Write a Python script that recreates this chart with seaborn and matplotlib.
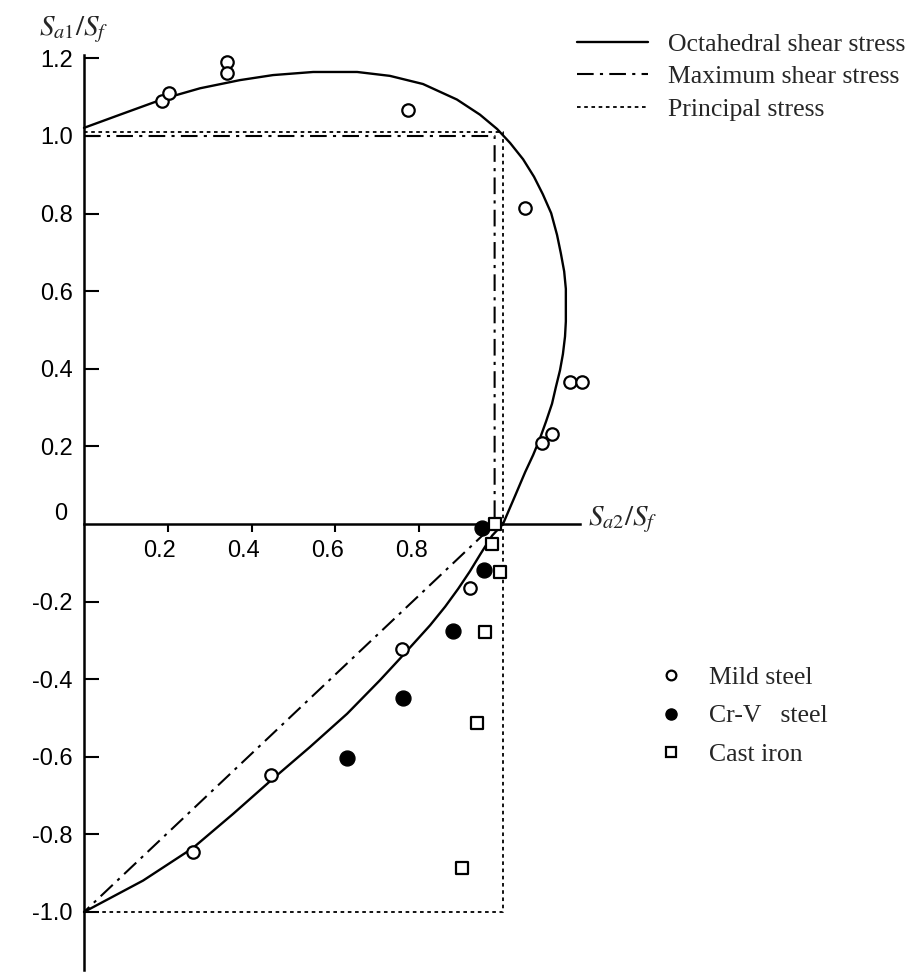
import matplotlib
matplotlib.use("Agg")
import matplotlib.pyplot as plt
import seaborn as sns
from matplotlib.lines import Line2D
from matplotlib.transforms import ScaledTranslation

# ---------------- data ----------------
# Octahedral shear stress curve (S_a2/S_f , S_a1/S_f)
octa_x = [0.000, 0.086, 0.193, 0.277, 0.372, 0.451, 0.547, 0.652, 0.730, 0.809,
          0.890, 0.945, 0.986, 1.017, 1.048, 1.074, 1.095, 1.115, 1.129, 1.138,
          1.146, 1.150, 1.150, 1.150, 1.148, 1.143, 1.136, 1.126, 1.117, 1.103,
          1.088, 1.072, 1.053, 1.029, 1.000, 0.974, 0.947, 0.921, 0.893, 0.862,
          0.826, 0.790, 0.754, 0.706, 0.628, 0.539, 0.444, 0.356, 0.260, 0.141,
          0.000]
octa_y = [1.021, 1.055, 1.097, 1.123, 1.144, 1.157, 1.165, 1.165, 1.155, 1.134,
          1.094, 1.055, 1.018, 0.982, 0.940, 0.895, 0.850, 0.801, 0.745, 0.698,
          0.651, 0.606, 0.562, 0.522, 0.483, 0.438, 0.396, 0.352, 0.310, 0.265,
          0.220, 0.178, 0.134, 0.073, 0.000, -0.030, -0.076, -0.122, -0.167, -0.213,
          -0.261, -0.304, -0.347, -0.403, -0.489, -0.575, -0.663, -0.747, -0.835, -0.919,
          -1.000]

# Maximum shear stress (Tresca) boundary
tresca_x = [0.0, 0.98, 0.98, 0.0]
tresca_y = [1.0, 1.0, 0.0, -1.0]

# Principal stress boundary
principal_x = [0.0, 1.0, 1.0, 0.0]
principal_y = [1.01, 1.01, -1.0, -1.0]

# Test data
mild_x = [0.187, 0.204, 0.341, 0.341, 0.774, 1.053, 1.160, 1.188, 1.094, 1.116,
          0.261, 0.446, 0.758, 0.922]
mild_y = [1.090, 1.112, 1.191, 1.162, 1.066, 0.814, 0.366, 0.366, 0.208, 0.232,
          -0.846, -0.646, -0.322, -0.166]
crv_x = [0.949, 0.955, 0.881, 0.761, 0.628]
crv_y = [-0.010, -0.119, -0.277, -0.448, -0.603]
cast_x = [0.981, 0.974, 0.993, 0.958, 0.937, 0.901]
cast_y = [0.000, -0.052, -0.123, -0.278, -0.514, -0.886]

xtick_vals = [0.2, 0.4, 0.6, 0.8]
xtick_labels = ["0.2", "0.4", "0.6", "0.8"]
ytick_vals = [1.2, 1.0, 0.8, 0.6, 0.4, 0.2, 0.0, -0.2, -0.4, -0.6, -0.8, -1.0]
ytick_labels = ["1.2", "1.0", "0.8", "0.6", "0.4", "0.2", "0",
                "-0.2", "-0.4", "-0.6", "-0.8", "-1.0"]

line_labels = ["Octahedral shear stress", "Maximum shear stress", "Principal stress"]
marker_labels = ["Mild steel", "Cr-V   steel", "Cast iron"]

# ---------------- style ----------------
sns.set_theme(style="white")
plt.rcParams.update({
    "font.family": ["Liberation Sans", "DejaVu Sans"],
    "mathtext.fontset": "stix",
    "axes.unicode_minus": False,
})

DPI = 100
fig = plt.figure(figsize=(9.2, 9.73), dpi=DPI)
ax = fig.add_axes([0, 0, 1, 1])
ax.set_facecolor("white")
fig.patch.set_facecolor("white")
ax.set_xlim(-84 / 419, 836 / 419)
ax.set_ylim(-449 / 388, 524 / 388)

DASHDOT = (0, (8, 3, 1.5, 3))
DOTTED = (0, (2, 2))

sns.lineplot(x=principal_x, y=principal_y, sort=False, estimator=None,
             color="black", lw=1.3, linestyle=DOTTED, ax=ax)
sns.lineplot(x=tresca_x, y=tresca_y, sort=False, estimator=None,
             color="black", lw=1.5, linestyle=DASHDOT, ax=ax)
sns.lineplot(x=octa_x, y=octa_y, sort=False, estimator=None,
             color="black", lw=1.7, ax=ax)

sns.scatterplot(x=mild_x, y=mild_y, marker="o", s=80, color="white",
                edgecolor="black", linewidth=1.6, zorder=5, ax=ax)
sns.scatterplot(x=crv_x, y=crv_y, marker="o", s=115, color="black",
                edgecolor="black", linewidth=1.0, zorder=5, ax=ax)
sns.scatterplot(x=cast_x, y=cast_y, marker="s", s=75, color="white",
                edgecolor="black", linewidth=1.6, zorder=5, ax=ax)

# ---------------- axes through the origin ----------------
for s in ["top", "right"]:
    ax.spines[s].set_visible(False)
ax.spines["left"].set_position(("data", 0))
ax.spines["bottom"].set_position(("data", 0))
ax.spines["left"].set_bounds(-1.15, 1.21)
ax.spines["bottom"].set_bounds(0, 1.184)
for s in ["left", "bottom"]:
    ax.spines[s].set_color("black")
    ax.spines[s].set_linewidth(1.8)
    ax.spines[s].set_zorder(3)

ax.set_xticks(xtick_vals)
ax.set_xticklabels(xtick_labels)
ax.set_yticks(ytick_vals)
ax.set_yticklabels(ytick_labels)
ax.tick_params(axis="x", bottom=True, direction="out", length=5.5, width=1.5,
               pad=6, labelsize=17, colors="black")
ax.tick_params(axis="y", left=True, direction="in", length=10.5, width=1.5,
               pad=8, labelsize=17, colors="black")
ax.set_xlabel("")
ax.set_ylabel("")

for t in ax.xaxis.get_major_ticks():
    t.label1.set_transform(t.label1.get_transform()
                           + ScaledTranslation(-8 / DPI, 0, fig.dpi_scale_trans))
for t in ax.yaxis.get_major_ticks():
    if abs(t.get_loc()) < 1e-9:
        t.tick1line.set_visible(False)
        t.label1.set_transform(t.label1.get_transform()
                               + ScaledTranslation(-6 / DPI, 13 / DPI, fig.dpi_scale_trans))

# axis titles
fig.text(39 / 920, 1 - 14 / 973, r"$S_{a1}/S_f$", fontsize=21, va="top", ha="left")
ax.text(1.203, 0.012, r"$S_{a2}/S_f$", fontsize=21, va="center", ha="left")

# ---------------- legends ----------------
serif = {"family": "Liberation Serif", "size": 18.5}
h1 = [Line2D([], [], color="black", lw=1.7),
      Line2D([], [], color="black", lw=1.5, linestyle=DASHDOT),
      Line2D([], [], color="black", lw=1.3, linestyle=DOTTED)]
leg1 = ax.legend(h1, line_labels, loc="center left",
                 bbox_to_anchor=(577 / 920, 1 - 77 / 973), bbox_transform=fig.transFigure,
                 frameon=False, prop=serif, handlelength=2.76, handletextpad=0.78,
                 labelspacing=0.38, borderpad=0, borderaxespad=0)
ax.add_artist(leg1)

h2 = [Line2D([], [], ls="none", marker="o", markersize=7, markerfacecolor="white",
             markeredgecolor="black", markeredgewidth=1.6),
      Line2D([], [], ls="none", marker="o", markersize=8, markerfacecolor="black",
             markeredgecolor="black"),
      Line2D([], [], ls="none", marker="s", markersize=7, markerfacecolor="white",
             markeredgecolor="black", markeredgewidth=1.6)]
leg2 = ax.legend(h2, marker_labels, loc="center left",
                 bbox_to_anchor=(658 / 920, 1 - 716 / 973), bbox_transform=fig.transFigure,
                 frameon=False, prop=serif, handlelength=1.0, handletextpad=1.0,
                 labelspacing=0.61, borderpad=0, borderaxespad=0)

fig.savefig("out.png", dpi=DPI, facecolor="white")
